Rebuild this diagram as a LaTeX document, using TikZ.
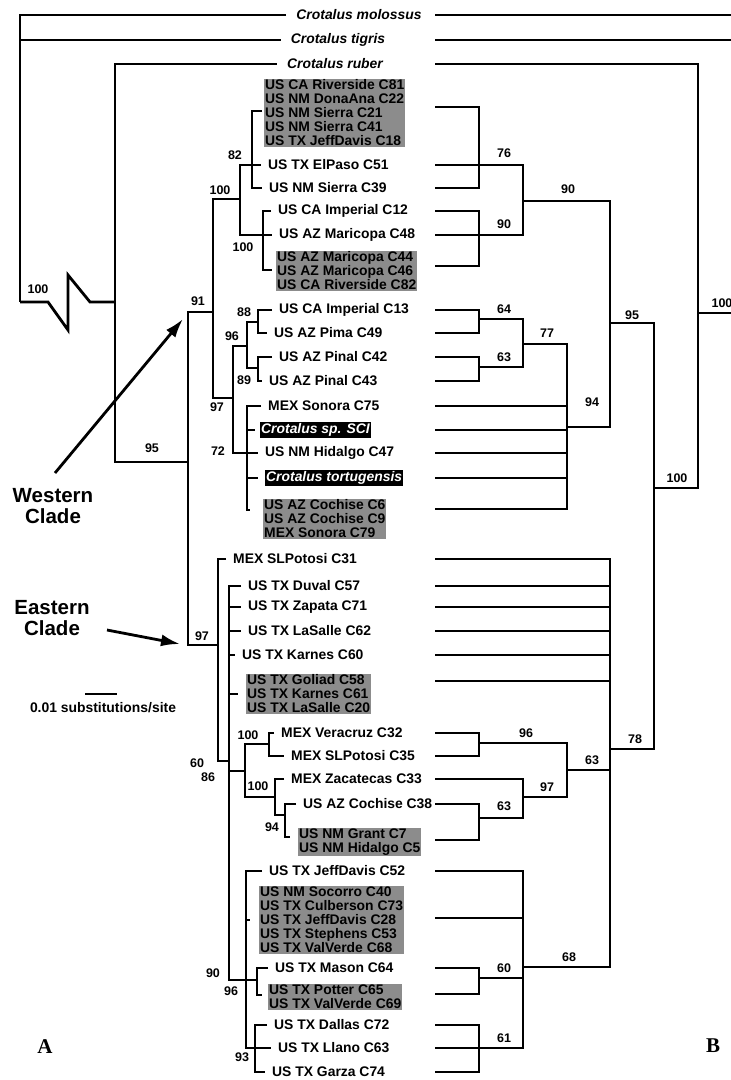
\documentclass[tikz,border=0pt]{standalone}
\usepackage{fontspec}
\setsansfont{Liberation Sans}
\newfontfamily\panelfont{Liberation Serif}
\usepackage{xcolor}
\usetikzlibrary{arrows.meta}
\definecolor{boxgray}{RGB}{140,140,140}

\begin{document}
\begin{tikzpicture}[x=1pt, y=-1pt, line join=miter,
br/.style={line width=2.8pt},
lbl/.style={anchor=west, inner xsep=7pt, inner ysep=1pt, font=\sffamily\bfseries\fontsize{13.9}{14}\selectfont},
grp/.style={anchor=west, fill=boxgray, inner xsep=1pt, inner ysep=1pt, align=left, font=\sffamily\bfseries\fontsize{13.9}{14}\selectfont},
blk/.style={anchor=west, fill=black, text=white, inner xsep=1pt, inner ysep=1.5pt, font=\sffamily\bfseries\itshape\fontsize{13.9}{14}\selectfont},
outgrp/.style={inner xsep=10pt, font=\sffamily\bfseries\itshape\fontsize{13.9}{14}\selectfont},
txt/.style={inner sep=0pt, font=\sffamily\bfseries\fontsize{13.9}{14}\selectfont},
bs/.style={inner sep=0pt, font=\sffamily\bfseries\fontsize{12.5}{13}\selectfont},
clade/.style={align=center, inner sep=0pt, font=\sffamily\bfseries\fontsize{20.5}{21}\selectfont},
pnl/.style={inner sep=0pt, font=\panelfont\bfseries\fontsize{21}{24}\selectfont},
arr/.style={line width=2.8pt, -{Latex[length=19pt,width=12pt]}}]
\path[use as bounding box, fill=white] (0,0) rectangle (731,1080);

% outgroups
\node[outgrp] (mol) at (359,15) {Crotalus molossus};
\node[outgrp] (tig) at (338,40) {Crotalus tigris};
\node[outgrp] (rub) at (335,64) {Crotalus ruber};

% western clade
\node[grp] (gA) at (264,113) {US CA Riverside C81\\US NM DonaAna C22\\US NM Sierra C21\\US NM Sierra C41\\US TX JeffDavis C18};
\node[lbl] (c51) at (261,165) {US TX ElPaso C51};
\node[lbl] (c39) at (262,188) {US NM Sierra C39};
\node[lbl] (c12) at (271,211) {US CA Imperial C12};
\node[lbl] (c48) at (272,235) {US AZ Maricopa C48};
\node[grp] (gB) at (276,271) {US AZ Maricopa C44\\US AZ Maricopa C46\\US CA Riverside C82};
\node[lbl] (c13) at (272,310) {US CA Imperial C13};
\node[lbl] (c49) at (267,333) {US AZ Pima C49};
\node[lbl] (c42) at (272,357) {US AZ Pinal C42};
\node[lbl] (c43) at (262,381) {US AZ Pinal C43};
\node[lbl] (c75) at (261,406) {MEX Sonora C75};
\node[blk] (sci) at (260,430) {Crotalus sp. SCI};
\node[lbl] (c47) at (258,453) {US NM Hidalgo C47};
\node[blk] (tor) at (265,478) {Crotalus tortugensis};
\node[grp] (gC) at (263,519) {US AZ Cochise C6\\US AZ Cochise C9\\MEX Sonora C79};

% eastern clade
\node[lbl] (c31) at (226,559) {MEX SLPotosi C31};
\node[lbl] (c57) at (241,586) {US TX Duval C57};
\node[lbl] (c71) at (241,607) {US TX Zapata C71};
\node[lbl] (c62) at (241,631) {US TX LaSalle C62};
\node[lbl] (c60) at (235,655) {US TX Karnes C60};
\node[grp] (gD) at (246,694) {US TX Goliad C58\\US TX Karnes C61\\US TX LaSalle C20};
\node[lbl] (c32) at (274,733) {MEX Veracruz C32};
\node[lbl] (c35) at (284,756) {MEX SLPotosi C35};
\node[lbl] (c33) at (284,779) {MEX Zacatecas C33};
\node[lbl] (c38) at (296,804) {US AZ Cochise C38};
\node[grp] (gE) at (298,842) {US NM Grant C7\\US NM Hidalgo C5};
\node[lbl] (c52) at (262,871) {US TX JeffDavis C52};
\node[grp] (gF) at (259,920) {US NM Socorro C40\\US TX Culberson C73\\US TX JeffDavis C28\\US TX Stephens C53\\US TX ValVerde C68};
\node[lbl] (c64) at (268,968) {US TX Mason C64};
\node[grp] (gG) at (268,997) {US TX Potter C65\\US TX ValVerde C69};
\node[lbl] (c72) at (267,1025) {US TX Dallas C72};
\node[lbl] (c63) at (271,1048) {US TX Llano C63};
\node[lbl] (c74) at (265,1072) {US TX Garza C74};

% tree A (left)
\coordinate (lroot) at (20,302);
\coordinate (lrub) at (115,302);
\coordinate (l95) at (188,462);
\coordinate (lW) at (213,312);
\coordinate (lW1) at (240,199);
\coordinate (lW11) at (252,165);
\coordinate (lW12) at (263,235);
\coordinate (lW2) at (233,398);
\coordinate (lW21) at (247,346);
\coordinate (lW211) at (258,322);
\coordinate (lW212) at (258,368);
\coordinate (lW22) at (247,453);
\coordinate (lE) at (218,645);
\coordinate (lE2) at (229,761);
\coordinate (lE21) at (245,771);
\coordinate (lE211) at (269,744);
\coordinate (lE212) at (275,797);
\coordinate (lE2121) at (285,815);
\coordinate (lE22) at (246,980);
\coordinate (lE221) at (257,980);
\coordinate (lE222) at (255,1048);

\draw[br] (mol.west) -| (lroot);
\draw[br] (tig.west) -| (lroot);
\draw[br] (lroot) -- ++(28,0) -- ++(20,28) -- ++(0,-55) -- ++(22,27) -- (lrub);
\draw[br] (rub.west) -| (lrub) |- (l95);
\draw[br] (lW) -| (l95) |- (lE);
\draw[br] (lW1) -| (lW) |- (lW2);
\draw[br] (lW11) -| (lW1) |- (lW12);
\draw[br] ([xshift=-2pt,yshift=2pt]gA.west) -| (lW11) |- (c39.west);
\draw[br] (lW11) -- (c51.west);
\draw[br] (c12.west) -| (lW12) |- ([xshift=-4pt,yshift=1pt]gB.west);
\draw[br] (lW12) -- (c48.west);
\draw[br] (lW21) -| (lW2) |- (lW22);
\draw[br] (lW211) -| (lW21) |- (lW212);
\draw[br] (c13.west) -| (lW211) |- (c49.west);
\draw[br] (c42.west) -| (lW212) |- (c43.west);
\draw[br] (c75.west) -| (lW22) |- ([xshift=-13pt,yshift=9pt]gC.west);
\draw[br] (lW22 |- sci.west) -- ([xshift=-5pt]sci.west);
\draw[br] (lW22) -- (c47.west);
\draw[br] (lW22 |- tor.west) -- ([xshift=-7pt]tor.west);
\draw[br] (c31.west) -| (lE) |- (lE2);
\draw[br] (c57.west) -| (lE2) |- (lE22);
\draw[br] (lE2 |- c71.west) -- (c71.west);
\draw[br] (lE2 |- c62.west) -- (c62.west);
\draw[br] (lE2 |- c60.west) -- (c60.west);
\draw[br] (lE2 |- gD.west) -- ([xshift=-8pt]gD.west);
\draw[br] (lE2 |- lE21) -- (lE21);
\draw[br] (lE211) -| (lE21) |- (lE212);
\draw[br] (c32.west) -| (lE211) |- (c35.west);
\draw[br] (c33.west) -| (lE212) |- (lE2121);
\draw[br] (c38.west) -| (lE2121) |- ([xshift=-8pt,yshift=5pt]gE.west);
\draw[br] (c52.west) -| (lE22) |- (lE222);
\draw[br] (lE22) -- (lE221);
\draw[br] (lE22 |- gF.west) -- ([xshift=-9pt]gF.west);
\draw[br] (c64.west) -| (lE221) |- ([xshift=-6pt,yshift=2pt]gG.west);
\draw[br] (c72.west) -| (lE222) |- (c74.west);
\draw[br] (lE222) -- (c63.west);

% tree B (right)
\coordinate (rx) at (435,0);
\coordinate (redge) at (731,0);
\coordinate (rR) at (698,313);
\coordinate (r100) at (654,488);
\coordinate (r95) at (610,323);
\coordinate (r90) at (523,201);
\coordinate (r76) at (479,165);
\coordinate (r90b) at (479,235);
\coordinate (r94) at (567,427);
\coordinate (r77) at (523,344);
\coordinate (r64) at (479,319);
\coordinate (r63a) at (479,367);
\coordinate (r78) at (610,749);
\coordinate (r63b) at (567,770);
\coordinate (r96) at (479,743);
\coordinate (r97) at (523,797);
\coordinate (r63c) at (479,818);
\coordinate (r68) at (523,967);
\coordinate (r60) at (479,978);
\coordinate (r61) at (479,1048);
\coordinate (gAr) at (435,107);
\coordinate (gBr) at (435,266);
\coordinate (gCr) at (435,509);
\coordinate (gDr) at (435,681);
\coordinate (gEr) at (435,840);
\coordinate (gFr) at (435,918);
\coordinate (gGr) at (435,994);

\draw[br] (rx |- mol) -- (redge |- mol);
\draw[br] (rx |- tig) -- (redge |- tig);
\draw[br] (rx |- rub) -| (rR) |- (r100);
\draw[br] (rR) -- (redge |- rR);
\draw[br] (r95) -| (r100) |- (r78);
\draw[br] (r90) -| (r95) |- (r94);
\draw[br] (r76) -| (r90) |- (r90b);
\draw[br] (gAr) -| (r76) |- (rx |- c39);
\draw[br] (rx |- c51) -- (r76);
\draw[br] (rx |- c12) -| (r90b) |- (gBr);
\draw[br] (rx |- c48) -- (r90b);
\draw[br] (r77) -| (r94) |- (gCr);
\draw[br] (r64) -| (r77) |- (r63a);
\draw[br] (rx |- c13) -| (r64) |- (rx |- c49);
\draw[br] (rx |- c42) -| (r63a) |- (rx |- c43);
\draw[br] (rx |- c75) -- (r94 |- c75);
\draw[br] (rx |- sci) -- (r94 |- sci);
\draw[br] (rx |- c47) -- (r94 |- c47);
\draw[br] (rx |- tor) -- (r94 |- tor);
\draw[br] (rx |- c31) -| (r78) |- (r68);
\draw[br] (rx |- c57) -- (r78 |- c57);
\draw[br] (rx |- c71) -- (r78 |- c71);
\draw[br] (rx |- c62) -- (r78 |- c62);
\draw[br] (rx |- c60) -- (r78 |- c60);
\draw[br] (gDr) -- (r78 |- gDr);
\draw[br] (r63b) -- (r78 |- r63b);
\draw[br] (r96) -| (r63b) |- (r97);
\draw[br] (rx |- c32) -| (r96) |- (rx |- c35);
\draw[br] (rx |- c33) -| (r97) |- (r63c);
\draw[br] (rx |- c38) -| (r63c) |- (gEr);
\draw[br] (rx |- c52) -| (r68) |- (r61);
\draw[br] (gFr) -- (r68 |- gFr);
\draw[br] (r60) -- (r68 |- r60);
\draw[br] (rx |- c64) -| (r60) |- (gGr);
\draw[br] (rx |- c72) -| (r61) |- (rx |- c74);
\draw[br] (rx |- c63) -- (r61);

% support values, tree A
\node[bs] (a1) at (38,289) {100};
\node[bs] (a2) at (152,448) {95};
\node[bs] (a3) at (198,301) {91};
\node[bs] (a4) at (220,190) {100};
\node[bs] (a5) at (235,155) {82};
\node[bs] (a6) at (243,247) {100};
\node[bs] (a7) at (217,407) {97};
\node[bs] (a8) at (232,336) {96};
\node[bs] (a9) at (244,312) {88};
\node[bs] (a10) at (244,380) {89};
\node[bs] (a11) at (218,451) {72};
\node[bs] (a12) at (202,636) {97};
\node[bs] (a13) at (197,763) {60};
\node[bs] (a14) at (208,777) {86};
\node[bs] (a15) at (248,735) {100};
\node[bs] (a16) at (258,786) {100};
\node[bs] (a17) at (272,827) {94};
\node[bs] (a18) at (213,973) {90};
\node[bs] (a19) at (231,991) {96};
\node[bs] (a20) at (242,1057) {93};

% support values, tree B
\node[bs] (b1) at (722,303) {100};
\node[bs] (b2) at (677,478) {100};
\node[bs] (b3) at (632,315) {95};
\node[bs] (b4) at (635,739) {78};
\node[bs] (b5) at (568,189) {90};
\node[bs] (b6) at (592,402) {94};
\node[bs] (b7) at (504,153) {76};
\node[bs] (b8) at (504,224) {90};
\node[bs] (b9) at (547,333) {77};
\node[bs] (b10) at (504,309) {64};
\node[bs] (b11) at (504,357) {63};
\node[bs] (b12) at (592,760) {63};
\node[bs] (b13) at (569,957) {68};
\node[bs] (b14) at (526,733) {96};
\node[bs] (b15) at (547,787) {97};
\node[bs] (b16) at (504,806) {63};
\node[bs] (b17) at (504,968) {60};
\node[bs] (b18) at (504,1038) {61};

% clade arrows and scale
\node[clade] (wcl) at (53,506) {Western\\Clade};
\node[clade] (ecl) at (52,618) {Eastern\\Clade};
\coordinate (wtail) at (55,473);
\coordinate (whead) at (183,319);
\coordinate (etail) at (107,630);
\coordinate (ehead) at (180,644);
\draw[arr] (wtail) -- (whead);
\draw[arr] (etail) -- (ehead);
\coordinate (sb1) at (85,694);
\coordinate (sb2) at (117,694);
\draw[br] (sb1) -- (sb2);
\node[txt] (sbl) at (103,708) {0.01 substitutions/site};
\node[pnl] (pA) at (45,1047) {A};
\node[pnl] (pB) at (713,1046) {B};
\end{tikzpicture}
\end{document}
